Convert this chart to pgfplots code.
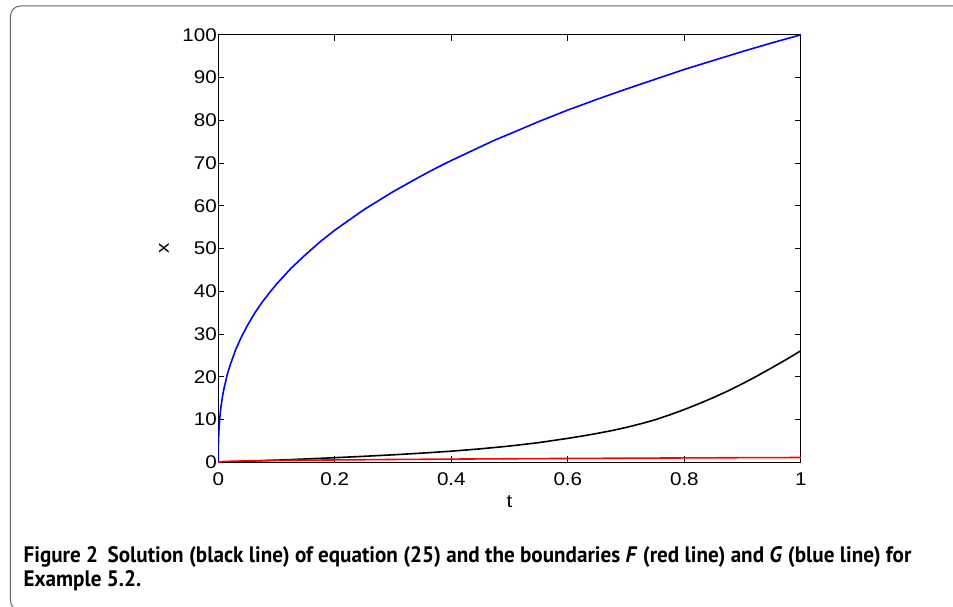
\documentclass[border=0pt]{standalone}
\usepackage{pgfplots}
\pgfplotsset{compat=1.18}
\usepackage{fontspec}
\setmainfont{Liberation Sans}
\newfontfamily\tickfont[FakeStretch=1.12]{Liberation Sans}
\newfontfamily\capfont{PT Sans}
\begin{document}
\newsavebox\capA
\sbox\capA{\capfont\bfseries\fontsize{22.5}{24}\selectfont Figure 2\hspace{0.45em}Solution (black line) of equation (25) and the boundaries \textit{F} (red line) and \textit{G} (blue line) for}
\pgfmathsetmacro{\sx}{893/\the\wd\capA}
\begin{tikzpicture}
\useasboundingbox (0pt,0pt) rectangle (953pt,610pt);
\begin{scope}
  \clip (0pt,0pt) rectangle (953pt,610pt);
  \draw[black!60, line width=1pt, rounded corners=10pt] (5pt,-4pt) rectangle (990pt,604pt);
\end{scope}
\begin{axis}[
  at={(214pt,145pt)}, anchor=south west,
  scale only axis,
  width=586pt, height=430pt,
  xmin=0, xmax=1, ymin=0, ymax=100,
  xtick={0,0.2,0.4,0.6,0.8,1},
  ytick={0,10,20,30,40,50,60,70,80,90,100},
  tick align=inside,
  major tick length=6pt,
  axis line style={line width=1.2pt},
  every tick/.style={black, line width=1pt},
  tick label style={font=\tickfont\fontsize{18.5}{20}\selectfont},
  /pgf/number format/assume math mode=true,
  xticklabel style={yshift=-7pt},
  yticklabel style={xshift=2pt},
  xlabel={t}, ylabel={x},
  label style={font=\tickfont\fontsize{18.5}{20}\selectfont},
  x label style={at={(axis description cs:0.5,-0.093)}, anchor=center},
  y label style={at={(axis description cs:-0.093,0.5)}, anchor=center},
]
% G boundary (blue)
\addplot[blue, line width=1.6pt, mark=none] coordinates {
  (0,0) (0.0002,3.9) (0.0005,5.6) (0.001,7.2) (0.002,9.4) (0.0035,11.7)
  (0.005,13.4) (0.0075,15.6) (0.01,17.4) (0.015,20.3) (0.02,22.6)
  (0.03,26.4) (0.04,29.4) (0.05,32.0) (0.0625,34.9) (0.075,37.4)
  (0.0875,39.6) (0.1,41.7) (0.125,45.4) (0.15,48.6) (0.175,51.6)
  (0.2,54.3) (0.225,56.7) (0.25,59.1) (0.275,61.2) (0.3,63.3)
  (0.325,65.2) (0.35,67.1) (0.375,68.9) (0.4,70.6) (0.425,72.2)
  (0.45,73.8) (0.475,75.4) (0.5,76.8) (0.55,79.7) (0.6,82.4)
  (0.65,84.9) (0.7,87.3) (0.75,89.6) (0.8,91.9) (0.85,94.0)
  (0.9,96.1) (0.95,98.1) (1,100)
};
% solution (black)
\addplot[black, line width=1.6pt, mark=none] coordinates {
  (0,0) (0.05,0.25) (0.1,0.5) (0.15,0.78) (0.2,1.08) (0.25,1.4)
  (0.3,1.75) (0.35,2.15) (0.4,2.6) (0.45,3.15) (0.5,3.8) (0.525,4.2)
  (0.55,4.6) (0.575,5.1) (0.6,5.6) (0.625,6.15) (0.65,6.75) (0.675,7.4)
  (0.7,8.15) (0.725,9.0) (0.75,9.95) (0.775,11.1) (0.8,12.35)
  (0.825,13.7) (0.85,15.15) (0.875,16.7) (0.9,18.4) (0.925,20.2)
  (0.95,22.1) (0.975,24.05) (1,26.1)
};
% F boundary (red)
\addplot[red, line width=1.6pt, mark=none] coordinates {
  (0,0) (0.01,0.2) (0.05,0.35) (0.1,0.45) (0.2,0.55) (0.3,0.66)
  (0.4,0.75) (0.5,0.83) (0.6,0.9) (0.7,0.96) (0.8,1.02) (0.9,1.08) (1,1.12)
};
\end{axis}
\node[anchor=base west, inner sep=0pt] at (18pt,44pt) {\scalebox{\sx}[1]{\usebox\capA}};
\node[anchor=base west, inner sep=0pt] at (18pt,20pt) {\scalebox{\sx}[1]{\capfont\bfseries\fontsize{22.5}{24}\selectfont Example 5.2.}};
\end{tikzpicture}
\end{document}
